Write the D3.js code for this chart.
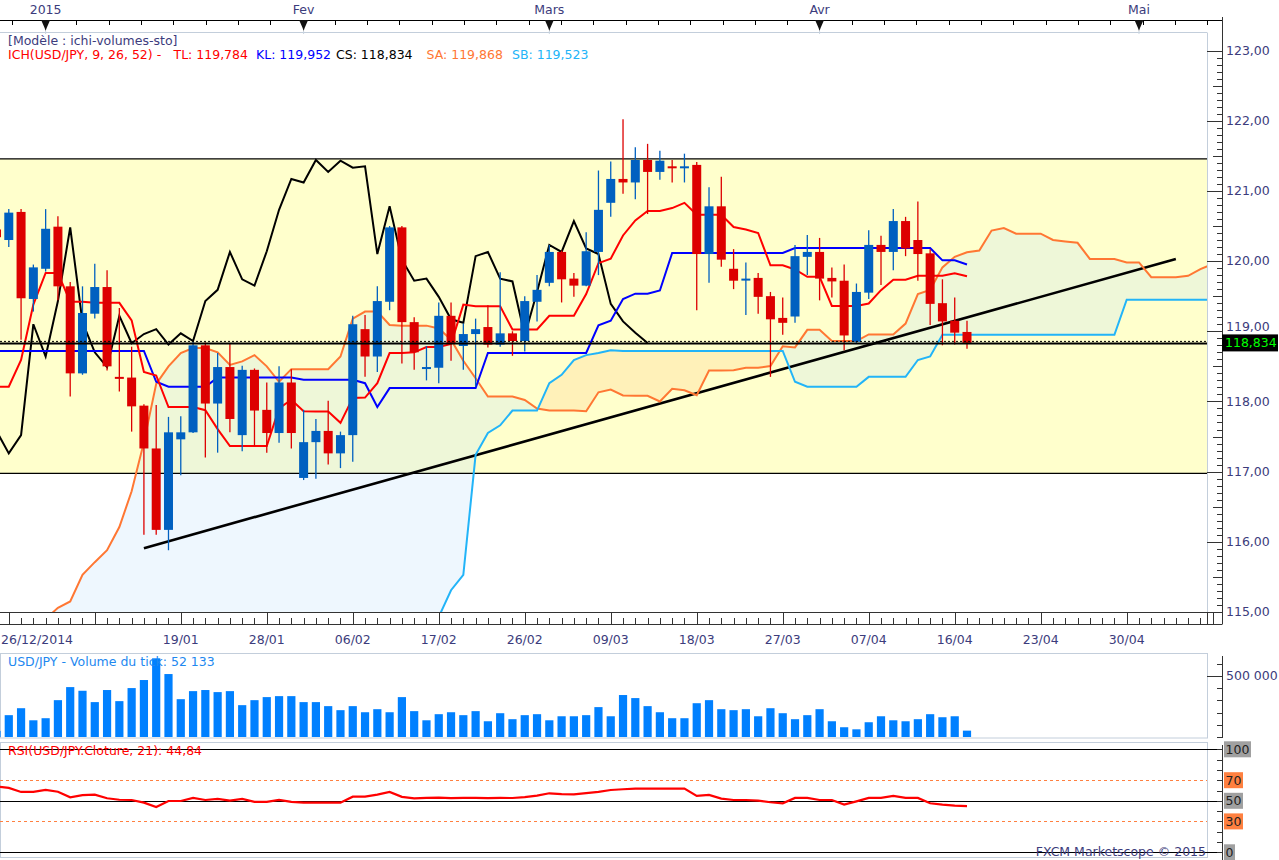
<!DOCTYPE html>
<html><head><meta charset="utf-8">
<script src="https://cdn.jsdelivr.net/npm/d3@7/dist/d3.min.js"></script>
<style>
body{margin:0;background:#fff;}
svg{display:block;font-family:"DejaVu Sans",Verdana,sans-serif;}
</style>
</head><body>
<svg id="chart" width="1279" height="860"></svg>
<script>
// ---------- DATA ----------
const opens = [120.45,120.30,120.70,119.46,119.89,120.49,119.64,118.40,119.25,119.63,
118.35,118.34,117.94,117.33,116.17,117.46,117.56,118.80,117.97,118.49,
117.52,118.45,117.88,117.55,118.27,116.91,117.42,117.58,117.26,117.52,
119.03,118.64,119.42,120.48,119.13,118.47,118.48,119.22,118.79,118.96,
119.06,118.81,118.97,118.86,119.42,119.69,120.13,119.75,119.65,120.13,
120.83,121.17,121.12,121.44,121.27,121.35,121.33,121.37,120.10,120.78,
119.89,119.73,119.76,119.50,119.19,119.21,120.06,120.13,119.76,119.72,
118.85,119.55,120.23,120.13,120.57,120.30,120.11,119.40,119.15,118.99];
const highs = [120.55,120.74,120.74,119.95,120.74,120.64,119.70,119.64,119.96,119.87,
119.33,118.78,117.96,117.95,117.78,117.79,118.85,118.84,118.69,118.83,
118.51,118.47,118.27,118.50,118.46,117.88,117.75,118.01,117.57,119.22,
119.23,119.64,120.50,120.50,119.20,118.79,119.41,119.41,119.11,119.18,
119.37,119.84,119.00,119.50,119.80,120.23,120.15,119.83,120.41,121.29,
121.42,122.02,121.62,121.67,121.57,121.44,121.53,121.41,121.05,121.20,
120.17,119.98,119.83,119.56,119.48,120.23,120.37,120.33,119.91,119.95,
119.68,120.44,120.36,120.74,120.63,120.85,120.17,119.74,119.48,119.15];
const lows = [120.25,120.20,118.88,119.28,119.85,119.44,118.07,118.38,119.18,118.44,
118.14,117.57,116.10,116.10,115.88,116.95,117.55,117.20,117.27,117.56,
117.29,117.36,117.27,117.41,117.33,116.88,116.90,117.10,117.05,117.14,
118.35,118.42,119.30,118.54,118.45,118.30,118.26,118.58,118.45,118.21,
118.77,118.78,118.65,118.71,119.14,119.64,119.41,119.49,119.64,119.80,
120.63,120.96,120.88,120.67,121.16,121.12,121.12,119.30,119.69,119.92,
119.60,119.23,119.25,118.35,118.95,119.12,119.80,119.44,119.48,118.73,
118.83,119.46,119.66,119.87,120.07,119.72,119.09,118.80,118.81,118.75];
const closes = [120.34,120.69,119.47,119.91,120.46,119.64,118.40,119.26,119.63,118.50,
118.33,117.93,117.33,116.17,117.56,117.56,118.80,117.97,118.49,117.75,
118.45,117.87,117.55,118.27,117.55,117.42,117.58,117.26,117.52,119.10,
118.64,119.43,120.48,119.13,118.70,118.49,119.22,118.83,118.96,119.03,
118.81,118.97,118.86,119.43,119.59,120.13,119.74,119.65,120.14,120.73,
121.17,121.12,121.44,121.27,121.43,121.33,121.35,120.10,120.78,120.02,
119.72,119.75,119.49,119.17,119.12,120.07,120.13,119.75,119.71,118.94,
119.56,120.23,120.13,120.57,120.18,120.10,119.39,119.14,118.98,118.834];

// Tenkan (TL, red)
const tenkan = [118.21,118.21,118.59,119.38,119.83,119.83,119.42,119.42,119.405,119.405,
119.405,119.155,118.42,118.37,117.92,117.92,117.92,117.875,117.605,117.365,
117.365,117.365,117.365,117.90,118.025,117.86,117.855,117.855,117.695,118.05,
118.055,118.26,118.69,118.69,118.70,118.775,118.775,118.82,119.38,119.355,
119.355,119.355,119.025,119.025,119.025,119.22,119.22,119.22,119.53,119.97,
120.035,120.365,120.58,120.715,120.715,120.755,120.83,120.66,120.66,120.66,
120.485,120.45,120.40,119.94,119.94,119.88,119.775,119.775,119.36,119.36,
119.36,119.395,119.585,119.735,119.735,119.79,119.79,119.79,119.825,119.784];
// Kijun (KL, blue)
const kijun = [118.72,118.72,118.72,118.72,118.72,118.72,118.72,118.72,118.72,118.72,
118.72,118.72,118.72,118.28,118.21,118.21,118.21,118.21,118.34,118.34,
118.34,118.34,118.34,118.34,118.34,118.31,118.31,118.31,118.31,118.31,
118.26,117.92,118.19,118.19,118.19,118.19,118.19,118.19,118.19,118.19,
118.69,118.69,118.69,118.69,118.69,118.69,118.69,118.69,118.69,119.085,
119.15,119.46,119.535,119.535,119.58,120.115,120.115,120.115,120.115,120.115,
120.115,120.115,120.115,120.115,120.115,120.185,120.185,120.185,120.185,120.185,
120.185,120.185,120.185,120.185,120.185,120.185,120.185,120.01,120.01,119.952];
// Chikou (CS, black) plotted from bar 0 to bar 53
const chikou = [117.58,117.26,117.52,119.10,118.64,119.43,120.48,119.13,118.70,118.49,
119.22,118.83,118.96,119.03,118.81,118.97,118.86,119.43,119.59,120.13,
119.74,119.65,120.14,120.73,121.17,121.12,121.44,121.27,121.43,121.33,
121.35,120.10,120.78,120.02,119.72,119.75,119.49,119.17,119.12,120.07,
120.13,119.75,119.71,118.94,119.56,120.23,120.13,120.57,120.18,120.10,
119.39,119.14,118.98,118.834];
// Senkou spans, plotted from bar 4 to bar 99
const cloudStart = 4;
const senkouA = [114.90,115.06,115.15,115.53,115.71,115.88,116.21,116.72,117.42,118.25,
118.50,118.69,118.76,118.76,118.70,118.52,118.57,118.66,118.50,118.28,
118.46,118.46,118.46,118.46,118.64,119.18,119.28,119.28,119.09,119.08,
119.08,119.08,119.04,118.88,118.58,118.33,118.07,118.07,118.07,118.02,
117.90,117.87,117.87,117.87,117.86,118.13,118.17,118.085,118.08,118.08,
118.00,118.18,118.16,118.09,118.44,118.44,118.445,118.48,118.48,118.505,
118.785,118.77,119.02,119.02,118.86,118.86,118.86,118.955,118.955,118.955,
119.11,119.53,119.59,119.91,120.06,120.125,120.15,120.435,120.47,120.39,
120.39,120.39,120.30,120.28,120.26,120.03,120.03,120.03,119.98,119.98,
119.77,119.77,119.77,119.79,119.885,119.96];
const senkouB = [114.20,114.20,114.20,114.20,114.25,114.25,114.25,114.30,114.30,114.30,
114.35,114.35,114.40,114.40,114.40,114.45,114.45,114.50,114.50,114.55,
114.55,114.60,114.60,114.65,114.65,114.70,114.70,114.75,114.80,114.85,
114.88,114.90,114.93,115.31,115.53,117.24,117.55,117.66,117.87,117.87,
117.87,118.26,118.38,118.59,118.66,118.69,118.73,118.72,118.72,118.72,
118.72,118.72,118.72,118.72,118.72,118.72,118.72,118.72,118.72,118.72,
118.72,118.28,118.21,118.21,118.21,118.21,118.21,118.35,118.35,118.35,
118.35,118.59,118.64,118.95,118.95,118.95,118.95,118.95,118.95,118.95,
118.95,118.95,118.95,118.95,118.95,118.95,118.95,118.95,119.45,119.45,
119.45,119.45,119.45,119.45,119.45,119.45];

const volumes = [50000,179000,236000,137000,154000,302000,409000,379000,286000,385000,
294000,401000,467000,645000,516000,310000,376000,385000,368000,376000,
261000,302000,327000,335000,335000,286000,286000,253000,220000,253000,
203000,228000,203000,327000,212000,137000,187000,203000,179000,212000,
129000,195000,146000,179000,187000,137000,170000,170000,179000,245000,
170000,344000,319000,253000,203000,154000,154000,277000,302000,228000,
220000,228000,170000,236000,195000,146000,179000,228000,129000,80000,
63000,121000,170000,137000,129000,146000,187000,162000,170000,52133];
const rsi = [63.8,62.5,58.6,58.6,60.5,58.8,53.4,55.5,56.0,52.5,
51.0,50.8,48.2,44.0,49.8,49.8,52.8,50.8,51.8,50.2,
51.8,48.9,48.9,50.8,48.9,48.2,48.2,48.2,48.2,54.0,
54.0,56.0,58.6,53.8,52.3,52.8,53.0,52.6,52.8,52.8,
52.6,52.8,52.7,53.6,55.0,57.3,56.5,56.3,57.5,58.6,
60.5,61.2,61.8,61.8,61.8,61.8,61.8,54.7,55.7,52.1,
50.8,50.8,50.2,48.6,47.6,52.8,52.8,50.8,50.8,46.3,
49.5,52.8,52.8,54.7,52.8,52.8,47.6,46.3,45.3,44.84];

const dateLabels = [{i:15,t:"19/01"},{i:22,t:"28/01"},{i:29,t:"06/02"},{i:36,t:"17/02"},
{i:43,t:"26/02"},{i:50,t:"09/03"},{i:57,t:"18/03"},{i:64,t:"27/03"},{i:71,t:"07/04"},
{i:78,t:"16/04"},{i:85,t:"23/04"},{i:92,t:"30/04"}];
const firstDateLabel = "26/12/2014";
const monthLabels = [{i:4,t:"2015"},{i:25,t:"Fev"},{i:45,t:"Mars"},{i:67,t:"Avr"},{i:93,t:"Mai"}];
const priceTicks = [115,116,117,118,119,120,121,122,123];
const trendLine = [{i:12,p:115.91},{i:96,p:120.03}];
const bandTop = 121.455, bandBottom = 116.975;
const lastPrice = 118.834;
const rsiLevels = [{v:100,bg:"#a0a0a0"},{v:70,bg:"#ff8040"},{v:50,bg:"#a0a0a0"},{v:30,bg:"#ff8040"},{v:0,bg:"#a0a0a0"}];

// ---------- LAYOUT ----------
const plotR = 1207, axisX = 1222;
const x = d3.scaleLinear().domain([0,79]).range([-3.5,967]);
const y = d3.scaleLinear().domain([115,123]).range([612,50.5]);
const yVol = d3.scaleLinear().domain([0,500000]).range([737,676]);
const yRsi = d3.scaleLinear().domain([0,100]).range([852.3,749.3]);
const fmt = v => v.toFixed(2).replace('.',',');
const txtCol = "#3c3c7c", gridGray = "#c3cedb";
const RED="#dd0000", BLUE="#0060c0";

const svg = d3.select("#chart");
svg.append("rect").attr("width",1279).attr("height",860).attr("fill","#fff");
const defs = svg.append("defs");
defs.append("clipPath").attr("id","clipMain").append("rect").attr("x",0).attr("y",33).attr("width",plotR).attr("height",579);
defs.append("clipPath").attr("id","clipVol").append("rect").attr("x",0).attr("y",654).attr("width",plotR).attr("height",84);
defs.append("clipPath").attr("id","clipRsi").append("rect").attr("x",0).attr("y",743).attr("width",plotR).attr("height",115);

// ---------- MAIN PANEL ----------
const main = svg.append("g").attr("clip-path","url(#clipMain)");
main.append("rect").attr("x",0).attr("width",plotR)
  .attr("y",y(bandTop)).attr("height",y(bandBottom)-y(bandTop)).attr("fill","#ffffcc");

// cloud
const pts = senkouA.map((a,k)=>({i:k+cloudStart,a:a,b:senkouB[k]}));
function regions(sign){
  const out=[]; let cur=null;
  for(let k=0;k<pts.length;k++){
    const p=pts[k], d=(p.a-p.b)*sign;
    if(k>0){
      const q=pts[k-1], dq=(q.a-q.b)*sign;
      if((dq>=0)!==(d>=0)){
        const t=dq/(dq-d);
        const c={i:q.i+t*(p.i-q.i), a:q.a+t*(p.a-q.a)}; c.b=c.a;
        if(cur){cur.push(c); out.push(cur); cur=null;} else cur=[c];
      }
    }
    if(d>=0){ if(!cur) cur=[]; cur.push(p); }
  }
  if(cur) out.push(cur);
  return out;
}
const area = d3.area().x(d=>x(d.i)).y0(d=>y(d.b)).y1(d=>y(d.a));
main.append("g").selectAll("path").data(regions(1)).join("path")
  .attr("d",area).attr("fill","rgba(190,225,250,0.26)");
main.append("g").selectAll("path").data(regions(-1)).join("path")
  .attr("d",area).attr("fill","rgba(255,190,120,0.22)");

// band borders
[bandTop,bandBottom].forEach(v=>{
  main.append("line").attr("x1",0).attr("x2",plotR).attr("y1",y(v)).attr("y2",y(v))
    .attr("stroke","#000").attr("stroke-width",1.2);
});

const line = d3.line().x(d=>x(d.i)).y(d=>y(d.v));
const series = (arr,off)=>arr.map((v,k)=>({i:k+(off||0),v:v}));

// trend line
main.append("path").attr("d",d3.line().x(d=>x(d.i)).y(d=>y(d.p))(trendLine))
  .attr("stroke","#000").attr("stroke-width",2.6).attr("fill","none");

main.append("path").attr("d",line(series(senkouA,cloudStart))).attr("stroke","#ff7733").attr("stroke-width",2).attr("fill","none");
main.append("path").attr("d",line(series(senkouB,cloudStart))).attr("stroke","#22b4f8").attr("stroke-width",2).attr("fill","none");
main.append("path").attr("d",line(series(chikou,0))).attr("stroke","#000").attr("stroke-width",2).attr("fill","none");
main.append("path").attr("d",line(series(kijun,0))).attr("stroke","#0000ff").attr("stroke-width",2).attr("fill","none");
main.append("path").attr("d",line(series(tenkan,0))).attr("stroke","#ff0000").attr("stroke-width",2).attr("fill","none");

// candles
const candles = opens.map((o,i)=>({i:i,o:o,h:highs[i],l:lows[i],c:closes[i]}));
const col = d=> d.c>=d.o ? BLUE : RED;
const cg = main.append("g");
cg.selectAll(".wick").data(candles).join("line").attr("class","wick")
  .attr("x1",d=>x(d.i)).attr("x2",d=>x(d.i)).attr("y1",d=>y(d.h)).attr("y2",d=>y(d.l))
  .attr("stroke",col).attr("stroke-width",1.3);
cg.selectAll(".body").data(candles).join("rect").attr("class","body")
  .attr("x",d=>x(d.i)-4.5).attr("width",9)
  .attr("y",d=>y(Math.max(d.o,d.c)))
  .attr("height",d=>Math.max(2,Math.abs(y(d.o)-y(d.c))))
  .attr("fill",col);

// current price line
main.append("line").attr("x1",0).attr("x2",plotR).attr("y1",y(lastPrice)+0.5).attr("y2",y(lastPrice)+0.5)
  .attr("stroke","#000").attr("stroke-width",2);
main.append("line").attr("x1",0).attr("x2",plotR).attr("y1",y(lastPrice)-1.5).attr("y2",y(lastPrice)-1.5)
  .attr("stroke","#000").attr("stroke-width",1).attr("stroke-dasharray","2,2");

// main panel frame
svg.append("line").attr("x1",0).attr("x2",plotR).attr("y1",32.5).attr("y2",32.5).attr("stroke",gridGray);
svg.append("line").attr("x1",plotR+0.5).attr("x2",plotR+0.5).attr("y1",32.5).attr("y2",612).attr("stroke",gridGray);

// ---------- TOP TIME AXIS ----------
svg.append("line").attr("x1",0).attr("x2",axisX).attr("y1",20.5).attr("y2",20.5).attr("stroke","#000");
const topTicks = d3.range(1.24, 99.5, 2.63);
svg.append("g").selectAll("line").data(topTicks).join("line")
  .attr("x1",d=>Math.round(x(d))+0.5).attr("x2",d=>Math.round(x(d))+0.5).attr("y1",20.5).attr("y2",25)
  .attr("stroke","#000");
const mg = svg.append("g");
mg.selectAll("path").data(monthLabels).join("path")
  .attr("d",d=>{const cx=x(d.i); return `M${cx-4.5},20 L${cx+4.5},20 L${cx+1},28 L${cx},31 L${cx-1},28 Z`;})
  .attr("fill","#111");
mg.selectAll("line").data(monthLabels).join("line")
  .attr("x1",d=>x(d.i)).attr("x2",d=>x(d.i)).attr("y1",31).attr("y2",34).attr("stroke","#c8d4e0");
mg.selectAll("text").data(monthLabels).join("text")
  .attr("x",d=>x(d.i)).attr("y",13.5).attr("text-anchor","middle")
  .attr("font-size","12.5px").attr("fill",txtCol).text(d=>d.t);

// ---------- BOTTOM DATE AXIS ----------
const da = svg.append("g");
da.append("line").attr("x1",0).attr("x2",axisX).attr("y1",612.5).attr("y2",612.5).attr("stroke","#333");
da.append("line").attr("x1",0).attr("x2",axisX).attr("y1",624.5).attr("y2",624.5).attr("stroke","#333");
const barTicks = d3.range(0,100);
da.selectAll(".mt").data(barTicks.filter(i=>x(i)>=0 && x(i)<=axisX)).join("line").attr("class","mt")
  .attr("x1",d=>Math.round(x(d))+0.5).attr("x2",d=>Math.round(x(d))+0.5)
  .attr("y1",d=> d%7===1 ? 612.5 : 618).attr("y2",624.5).attr("stroke","#333");
da.selectAll("text").data(dateLabels).join("text")
  .attr("x",d=>x(d.i)).attr("y",643.5).attr("text-anchor","middle")
  .attr("font-size","12.5px").attr("fill",txtCol).text(d=>d.t);
da.append("text").attr("x",1).attr("y",643.5).attr("font-size","12.5px").attr("fill",txtCol).text(firstDateLabel);

// ---------- PRICE AXIS ----------
const pa = svg.append("g");
pa.append("line").attr("x1",axisX+0.5).attr("x2",axisX+0.5).attr("y1",17).attr("y2",624.5).attr("stroke","#333");
pa.append("line").attr("x1",plotR+0.5).attr("x2",plotR+0.5).attr("y1",612).attr("y2",624.5).attr("stroke","#333");
const minor = d3.range(1150,1231).map(v=>v/10).filter(v=>y(v)>34);
pa.selectAll(".pt").data(minor).join("line").attr("class","pt")
  .attr("x1",v=>{const r=Math.round(v*10)%10; return r===0? plotR : (r===5? axisX-9 : axisX-5);})
  .attr("x2",axisX).attr("y1",v=>Math.round(y(v))+0.5).attr("y2",v=>Math.round(y(v))+0.5)
  .attr("stroke","#333");
const boxTop = y(lastPrice)-8.5;
pa.selectAll("text").data(priceTicks).join("text")
  .attr("x",1226)
  .attr("y",v=>{const b=y(v)+4.4; return (b+3>boxTop && b-10<boxTop+17) ? Math.min(b, boxTop-3.2) : b;})
  .attr("font-size","12.5px").attr("fill",txtCol).text(fmt);
pa.append("rect").attr("x",axisX).attr("y",boxTop).attr("width",56).attr("height",17).attr("fill","#000");
pa.append("text").attr("x",axisX+3).attr("y",y(lastPrice)+4.5).attr("font-size","12.5px")
  .attr("fill","#00ff00").text(lastPrice.toFixed(3).replace('.',','));

// ---------- LEGEND ----------
const lg = svg.append("g").attr("font-size","12.5px");
lg.append("text").attr("x",8).attr("y",45).attr("fill",txtCol).text("[Modèle : ichi-volumes-sto]");
const legendParts = [
  {x:8,t:"ICH(USD/JPY, 9, 26, 52) -",c:"#ff0000"},
  {x:173.5,t:"TL: 119,784",c:"#ff0000"},
  {x:256,t:"KL: 119,952",c:"#0000ff"},
  {x:336,t:"CS: 118,834",c:"#000000"},
  {x:426.5,t:"SA: 119,868",c:"#ff7733"},
  {x:512,t:"SB: 119,523",c:"#22b4f8"}];
lg.selectAll(".lp").data(legendParts).join("text").attr("class","lp")
  .attr("x",d=>d.x).attr("y",59).attr("fill",d=>d.c).text(d=>d.t);

// ---------- VOLUME PANEL ----------
const vp = svg.append("g");
vp.append("rect").attr("x",0.5).attr("y",653.5).attr("width",plotR).attr("height",84.5).attr("fill","none").attr("stroke",gridGray);
vp.append("g").attr("clip-path","url(#clipVol)").selectAll("rect").data(volumes).join("rect")
  .attr("x",(d,i)=>x(i)-4.1).attr("width",8.2)
  .attr("y",d=>yVol(d)).attr("height",d=>yVol(0)-yVol(d)).attr("fill","#0080ff");
vp.append("text").attr("x",8).attr("y",666).attr("font-size","12.5px").attr("fill","#1e88f0")
  .text("USD/JPY - Volume du tick: 52 133");
vp.append("line").attr("x1",axisX+0.5).attr("x2",axisX+0.5).attr("y1",656).attr("y2",738).attr("stroke","#333");
vp.selectAll(".vt").data(d3.range(0,700001,100000).filter(v=>yVol(v)>656)).join("line").attr("class","vt")
  .attr("x1",v=> v===500000 ? plotR : axisX-5).attr("x2",axisX)
  .attr("y1",v=>Math.round(yVol(v))+0.5).attr("y2",v=>Math.round(yVol(v))+0.5).attr("stroke","#333");
vp.append("text").attr("x",1226).attr("y",yVol(500000)+4.4).attr("font-size","12.5px").attr("fill",txtCol).text("500 000");

// ---------- RSI PANEL ----------
const rp = svg.append("g");
rp.append("rect").attr("x",0.5).attr("y",742.5).attr("width",plotR).attr("height",115).attr("fill","none").attr("stroke",gridGray);
[100,50,0].forEach(v=>{
  rp.append("line").attr("x1",0).attr("x2",axisX).attr("y1",Math.round(yRsi(v))+0.5).attr("y2",Math.round(yRsi(v))+0.5)
    .attr("stroke","#000");
});
[70,30].forEach(v=>{
  rp.append("line").attr("x1",0).attr("x2",plotR).attr("y1",Math.round(yRsi(v))+0.5).attr("y2",Math.round(yRsi(v))+0.5)
    .attr("stroke","#ff8040").attr("stroke-dasharray","3,3");
});
rp.append("path").attr("clip-path","url(#clipRsi)").attr("d",d3.line().x((d,i)=>x(i)).y(d=>yRsi(d))(rsi))
  .attr("stroke","#ff0000").attr("stroke-width",2.2).attr("fill","none");
rp.append("text").attr("x",8).attr("y",755).attr("font-size","12.5px").attr("fill","#ff0000")
  .text("RSI(USD/JPY.Cloture, 21): 44,84");
rp.append("line").attr("x1",axisX+0.5).attr("x2",axisX+0.5).attr("y1",745).attr("y2",860).attr("stroke","#333");
rp.selectAll(".rt").data(d3.range(0,101,10)).join("line").attr("class","rt")
  .attr("x1",axisX-5).attr("x2",axisX)
  .attr("y1",v=>Math.round(yRsi(v))+0.5).attr("y2",v=>Math.round(yRsi(v))+0.5).attr("stroke","#333");
const rl = rp.selectAll(".rl").data(rsiLevels).join("g").attr("class","rl");
rl.append("rect").attr("x",axisX+2).attr("y",d=>yRsi(d.v)-8).attr("height",16)
  .attr("width",d=>String(d.v).length*8+3).attr("fill",d=>d.bg);
rl.append("text").attr("x",axisX+3.5).attr("y",d=>yRsi(d.v)+4.5).attr("font-size","12.5px").attr("fill","#222").text(d=>d.v);
rp.append("text").attr("x",1206).attr("y",856).attr("text-anchor","end").attr("font-size","12.5px")
  .attr("fill",txtCol).text("FXCM Marketscope © 2015");
</script>
</body></html>
